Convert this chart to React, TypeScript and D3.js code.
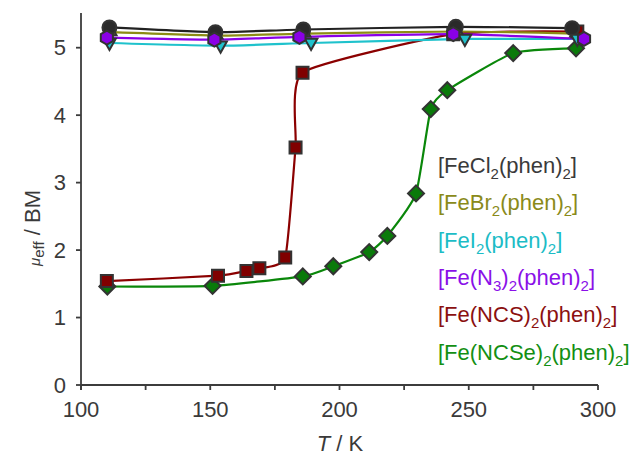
import React from 'react';
import * as d3 from 'd3';

const W = 641, H = 464;

// Temperatures (K) and effective magnetic moments (BM)
const tCl = [111, 152, 186, 245, 290];
const muCl = [5.30, 5.23, 5.27, 5.31, 5.29];
const tBr = [112, 153, 187, 246, 291];
const muBr = [5.23, 5.18, 5.21, 5.24, 5.21];
const tI = [111, 154, 189, 248.5, 292];
const muI = [5.07, 5.03, 5.07, 5.13, 5.13];
const tN3 = [110, 151.6, 184.5, 244, 294.6];
const muN3 = [5.15, 5.12, 5.16, 5.20, 5.13];
const tNCS = [110, 153, 164, 169, 179, 183, 185.7, 244, 292];
const muNCS = [1.54, 1.62, 1.69, 1.73, 1.89, 3.52, 4.63, 5.20, 5.24];
const tNCSe = [110.2, 150.9, 185.8, 197.6, 211.5, 218.5, 229.6, 235.3, 241.7, 267.2, 291.5];
const muNCSe = [1.46, 1.47, 1.61, 1.76, 1.97, 2.21, 2.84, 4.09, 4.37, 4.92, 4.99];

const xTicks = [100, 125, 150, 175, 200, 225, 250, 275, 300];
const xTickLabels = [100, 150, 200, 250, 300];
const yTicks = [0, 1, 2, 3, 4, 5];

type Series = {
  name: string; t: number[]; mu: number[]; line: string; fill: string;
  marker: 'circle' | 'triUp' | 'triDown' | 'hex' | 'square' | 'diamond'; size: number;
};

const series: Series[] = [
  { name: 'NCSe', t: tNCSe, mu: muNCSe, line: '#0a870a', fill: '#0a7a0a', marker: 'diamond', size: 8 },
  { name: 'NCS', t: tNCS, mu: muNCS, line: '#8b0000', fill: '#800000', marker: 'square', size: 6 },
  { name: 'Br', t: tBr, mu: muBr, line: '#8c8c14', fill: '#8c8c14', marker: 'triUp', size: 5 },
  { name: 'Cl', t: tCl, mu: muCl, line: '#222222', fill: '#2a2a2a', marker: 'circle', size: 7 },
  { name: 'I', t: tI, mu: muI, line: '#1fc2cc', fill: '#1fc2cc', marker: 'triDown', size: 7 },
  { name: 'N3', t: tN3, mu: muN3, line: '#8a00e6', fill: '#8a00e6', marker: 'hex', size: 7 },
];

const FONT = '"Liberation Sans", Arial, sans-serif';
const TXT = '#3a3a3a';

function markerPath(kind: Series['marker'], r: number): string {
  if (kind === 'circle') return d3.symbol(d3.symbolCircle, Math.PI * r * r)() as string;
  if (kind === 'square') return d3.symbol(d3.symbolSquare, (2 * r) * (2 * r))() as string;
  if (kind === 'diamond') {
    const p = d3.path();
    p.moveTo(0, -r); p.lineTo(r, 0); p.lineTo(0, r); p.lineTo(-r, 0); p.closePath();
    return p.toString();
  }
  if (kind === 'hex') {
    const p = d3.path();
    d3.range(6).forEach((i) => {
      const a = (Math.PI / 3) * i + Math.PI / 6;
      const fn = i === 0 ? 'moveTo' : 'lineTo';
      (p as any)[fn](r * Math.cos(a), r * Math.sin(a));
    });
    p.closePath();
    return p.toString();
  }
  const p = d3.path();
  const dir = kind === 'triUp' ? -1 : 1;
  p.moveTo(0, dir * r); p.lineTo(r * 0.9, -dir * r * 0.6); p.lineTo(-r * 0.9, -dir * r * 0.6); p.closePath();
  return p.toString();
}

export default function App() {
  const x = d3.scaleLinear().domain([100, 300]).range([81, 598]);
  const y = d3.scaleLinear().domain([0, 5]).range([385, 47.7]);
  const yTop = y(5.515);
  const line = d3.line<[number, number]>()
    .x((d) => x(d[0])).y((d) => y(d[1]))
    .curve(d3.curveCardinal.tension(0.5));

  const legend = [
    { color: '#3a3a3a', parts: [['[FeCl', 0], ['2', 1], ['(phen)', 0], ['2', 1], [']', 0]] },
    { color: '#8a8a1a', parts: [['[FeBr', 0], ['2', 1], ['(phen)', 0], ['2', 1], [']', 0]] },
    { color: '#1cbcc6', parts: [['[FeI', 0], ['2', 1], ['(phen)', 0], ['2', 1], [']', 0]] },
    { color: '#8a10e8', parts: [['[Fe(N', 0], ['3', 1], [')', 0], ['2', 1], ['(phen)', 0], ['2', 1], [']', 0]] },
    { color: '#8b1010', parts: [['[Fe(NCS)', 0], ['2', 1], ['(phen)', 0], ['2', 1], [']', 0]] },
    { color: '#138f13', parts: [['[Fe(NCSe)', 0], ['2', 1], ['(phen)', 0], ['2', 1], [']', 0]] },
  ] as { color: string; parts: [string, number][] }[];

  return (
    <svg width={W} height={H} style={{ position: 'absolute', left: 0, top: 0, background: '#fff' }}
      fontFamily={FONT}>
      <rect width={W} height={H} fill="#fff" />
      {/* axes */}
      <g stroke="#3c3c3c" strokeWidth={1.8} fill="none">
        <line x1={x(100)} x2={x(100)} y1={yTop} y2={y(0) + 5} />
        <line x1={x(100)} x2={x(300)} y1={y(0)} y2={y(0)} />
        {xTicks.map((t) => (
          <line key={'xt' + t} x1={x(t)} x2={x(t)} y1={y(0)} y2={y(0) + 5} />
        ))}
        {yTicks.map((v) => (
          <line key={'yt' + v} x1={x(100) - 5} x2={x(100)} y1={y(v)} y2={y(v)} />
        ))}
      </g>
      <g fill={TXT} fontSize={22}>
        {xTickLabels.map((t) => (
          <text key={'xl' + t} x={x(t)} y={417} textAnchor="middle">{t}</text>
        ))}
        {yTicks.map((v) => (
          <text key={'yl' + v} x={66} y={y(v)} textAnchor="end" dominantBaseline="central">{v}</text>
        ))}
        <text x={340} y={451} textAnchor="middle">
          <tspan fontStyle="italic">T</tspan>
          <tspan> / K</tspan>
        </text>
        <text transform={`translate(40, 228) rotate(-90)`} textAnchor="middle">
          <tspan fontStyle="italic" fontSize={15}>μ</tspan>
          <tspan fontSize={15} dy={4}>eff</tspan>
          <tspan dy={-4}> / BM</tspan>
        </text>
      </g>
      {/* series lines */}
      {series.map((s) => (
        <path key={'l' + s.name}
          d={line(s.t.map((t, i) => [t, s.mu[i]] as [number, number])) as string}
          fill="none" stroke={s.line} strokeWidth={2.2} />
      ))}
      {/* markers */}
      {series.map((s) => (
        <g key={'m' + s.name}>
          {s.t.map((t, i) => (
            <path key={i} d={markerPath(s.marker, s.size)}
              transform={`translate(${x(t)},${y(s.mu[i])})`}
              fill={s.fill} stroke="#333" strokeWidth={2} />
          ))}
        </g>
      ))}
      {/* legend */}
      <g fontSize={22}>
        {legend.map((l, i) => (
          <text key={'lg' + i} x={438} y={173 + i * 37.3} fill={l.color}>
            {l.parts.map(([s, sub], j) => {
              const prevSub = j > 0 ? l.parts[j - 1][1] : 0;
              const dy = sub && !prevSub ? 6 : !sub && prevSub ? -6 : 0;
              return (
                <tspan key={j} fontSize={sub ? 15 : 22} dy={dy}>{s}</tspan>
              );
            })}
          </text>
        ))}
      </g>
    </svg>
  );
}
